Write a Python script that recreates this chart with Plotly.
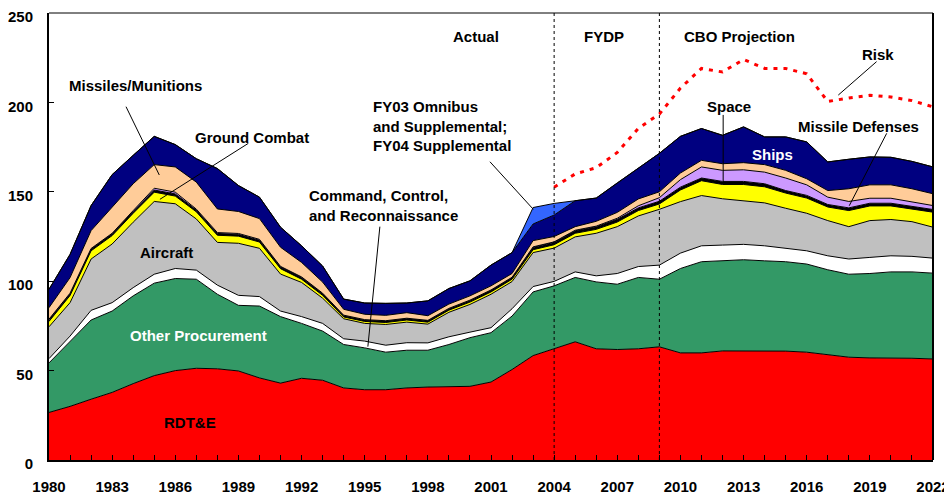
import plotly.graph_objects as go

years = list(range(1980, 2023))

rdte = [26.6, 30.0, 34.0, 37.8, 42.7, 47.2, 50.0, 51.3, 51.0, 49.8,
        45.9, 43.0, 45.7, 44.6, 40.3, 39.3, 39.3, 40.3, 40.8, 41.2,
        41.2, 43.6, 50.6, 58.4, 62.2, 66.1, 62.2, 61.8, 62.2, 63.3,
        59.9, 59.9, 61.0, 61.0, 61.0, 60.9, 60.3, 59.0, 57.5, 57.1,
        57.1, 56.9, 56.5]
other_proc = [27.7, 36.1, 44.3, 45.5, 49.1, 51.7, 51.5, 49.8, 41.7, 36.7,
              40.2, 37.2, 30.7, 27.5, 24.3, 23.4, 21.0, 21.1, 20.6, 23.4,
              27.2, 27.6, 29.9, 35.6, 35.2, 36.0, 37.4, 36.5, 39.9, 37.8,
              47.2, 51.0, 50.4, 51.0, 50.4, 50.0, 49.3, 47.4, 46.4, 47.2,
              48.1, 48.3, 48.0]
c2_recon = [2.4, 3.2, 5.4, 4.7, 4.6, 5.0, 5.6, 5.1, 5.1, 5.6,
            5.3, 3.1, 3.8, 4.3, 3.2, 3.8, 3.9, 4.2, 4.1, 4.3,
            3.1, 2.8, 4.1, 3.0, 2.5, 3.1, 3.4, 6.0, 6.1, 7.9,
            8.6, 8.9, 8.8, 8.6, 8.4, 7.5, 7.4, 7.8, 8.5, 9.0,
            9.0, 8.7, 8.4]
aircraft = [17.8, 18.7, 28.7, 32.8, 36.6, 40.7, 36.2, 28.6, 23.9, 29.1,
            27.0, 20.7, 19.1, 14.1, 11.2, 9.9, 11.6, 11.5, 10.5, 13.7,
            15.5, 18.7, 15.2, 19.0, 18.6, 19.6, 23.8, 26.2, 28.3, 31.2,
            28.8, 28.1, 25.9, 24.5, 24.0, 22.4, 21.0, 19.7, 18.1, 20.6,
            20.3, 19.4, 17.3]
ground_combat = [3.0, 4.0, 4.6, 4.7, 5.0, 5.2, 4.3, 4.0, 4.0, 4.0,
                 3.5, 3.0, 1.8, 1.6, 1.0, 1.1, 1.1, 1.2, 1.1, 1.2,
                 1.3, 1.3, 1.3, 1.6, 1.9, 2.0, 2.2, 2.6, 3.0, 3.0,
                 6.5, 8.3, 8.0, 9.0, 9.0, 8.5, 8.5, 7.6, 9.0, 8.2,
                 7.6, 7.0, 8.4]
space = [1.0, 1.0, 1.0, 1.0, 1.0, 1.2, 1.2, 1.0, 1.0, 1.0,
         1.0, 1.0, 1.0, 1.0, 0.8, 0.8, 0.8, 0.8, 0.8, 0.8,
         0.9, 0.9, 0.9, 1.3, 1.3, 1.4, 1.5, 1.5, 1.5, 1.5,
         1.6, 1.5, 1.7, 1.7, 1.7, 1.4, 1.5, 1.4, 1.5, 1.5,
         1.5, 1.5, 1.5]
missile_def = [0.3, 0.3, 0.3, 0.3, 0.5, 1.0, 1.0, 0.5, 0.5, 0.5,
               0.5, 0.3, 0.3, 0.2, 0.2, 0.2, 0.2, 0.2, 0.2, 0.2,
               0.2, 0.2, 0.2, 0.3, 0.3, 0.3, 0.3, 0.6, 1.2, 2.0,
               4.2, 6.2, 6.2, 6.5, 6.5, 7.0, 5.9, 4.1, 3.6, 2.8,
               2.8, 2.4, 2.2]
missiles_mun = [6.4, 8.7, 10.0, 14.6, 15.0, 13.2, 14.1, 15.1, 13.2, 12.3,
                11.6, 10.7, 8.1, 6.2, 3.3, 3.0, 3.0, 3.1, 2.6, 2.4,
                2.4, 2.3, 2.1, 3.5, 3.0, 2.0, 2.7, 3.3, 3.8, 3.3,
                3.7, 3.7, 3.7, 4.0, 4.2, 4.3, 3.4, 3.7, 7.1, 7.5,
                7.5, 7.5, 6.6]
ships = [10.3, 13.0, 14.0, 18.2, 15.9, 15.8, 12.5, 13.1, 22.6, 14.5,
         12.0, 11.2, 9.3, 9.0, 5.7, 6.3, 6.7, 5.4, 8.3, 8.7,
         8.4, 11.6, 11.7, 9.3, 12.0, 14.5, 13.0, 16.5, 17.0, 21.5,
         20.5, 17.8, 15.9, 20.0, 15.5, 18.7, 20.6, 16.0, 16.5, 15.6,
         15.4, 15.3, 15.0]
supplemental = [0.0] * 23 + [9.2, 6.5] + [0.0] * 18

risk_years = list(range(2004, 2023))
risk = [152.6, 160.0, 163.5, 172.0, 185.5, 193.5, 208.0, 219.0, 217.0, 224.0,
        219.0, 219.0, 216.0, 200.5, 202.5, 204.0, 203.0, 201.0, 197.5]

x_ticks = list(range(1980, 2023, 3))
y_ticks = [0, 50, 100, 150, 200, 250]

series = [
    ("RDT&E", rdte, "#FF0000"),
    ("Other Procurement", other_proc, "#339966"),
    ("Command, Control, and Reconnaissance", c2_recon, "#FFFFFF"),
    ("Aircraft", aircraft, "#C0C0C0"),
    ("Ground Combat", ground_combat, "#FFFF00"),
    ("Space", space, "#000000"),
    ("Missile Defenses", missile_def, "#CC99FF"),
    ("Missiles/Munitions", missiles_mun, "#FFCC99"),
    ("Ships", ships, "#000080"),
    ("FY03 Omnibus and Supplemental; FY04 Supplemental", supplemental, "#3366FF"),
]

FONT = "Liberation Sans, Arial, sans-serif"
LBL = 15

fig = go.Figure()
for name, vals, col in series:
    fig.add_trace(go.Scatter(
        x=years, y=vals, name=name, mode="lines",
        stackgroup="one", fillcolor=col,
        line=dict(color="black", width=1),
        hoverinfo="skip",
    ))

fig.add_trace(go.Scatter(
    x=risk_years, y=risk, name="Risk", mode="lines",
    line=dict(color="#FF0000", width=3, dash="4px,6px"),
    hoverinfo="skip",
))

fig.update_layout(
    width=944, height=489,
    margin=dict(l=41, r=19, t=5, b=37, autoexpand=False),
    paper_bgcolor="white", plot_bgcolor="white",
    showlegend=False,
    font=dict(family=FONT, size=14, color="black"),
    xaxis=dict(
        range=[1980, 2022], tickvals=x_ticks,
        ticktext=[str(v) for v in x_ticks],
        tickfont=dict(family=FONT, size=15, color="black", weight="bold"),
        ticks="inside", ticklen=5, tickcolor="black", tickwidth=1,
        minor=dict(dtick=1, tick0=1980, ticks="inside", ticklen=5,
                   tickcolor="black", tickwidth=1),
        ticklabelstandoff=12, ticklabeloverflow="allow", automargin=False,
        showline=True, linecolor="black", linewidth=2,
        showgrid=False, zeroline=False,
    ),
    yaxis=dict(
        range=[0, 250], tickvals=y_ticks,
        tickfont=dict(family=FONT, size=15, color="black", weight="bold"),
        ticks="inside", ticklen=5, tickcolor="black", tickwidth=1,
        ticklabelstandoff=11, ticklabelshift=4,
        ticklabeloverflow="allow", automargin=False,
        showline=True, linecolor="black", linewidth=2,
        showgrid=False, zeroline=False,
    ),
)

# plot border (top and right)
fig.add_shape(type="line", xref="paper", yref="paper", x0=0, x1=1, y0=1, y1=1,
              line=dict(color="black", width=1))
fig.add_shape(type="line", xref="paper", yref="paper", x0=1, x1=1, y0=0, y1=1,
              line=dict(color="black", width=2))

# period dividers
for xv in (2004, 2009):
    fig.add_shape(type="line", xref="x", yref="paper", x0=xv, x1=xv, y0=0, y1=1,
                  line=dict(color="black", width=1, dash="dot"))

# leader lines
leaders = [
    (1983.66, 197.6, 1985.24, 159.4),   # Missiles/Munitions
    (1989.47, 177.1, 1985.27, 145.8),   # Ground Combat
    (1995.72, 130.5, 1995.15, 63.4),    # Command, Control...
    (2000.95, 166.8, 2003.01, 140.2),   # FY03 Omnibus
    (2012.03, 193.0, 2012.03, 155.6),   # Space
    (2019.80, 182.7, 2018.02, 142.2),   # Missile Defenses
    (2019.32, 222.8, 2017.50, 204.1),   # Risk
]
for x0, y0, x1, y1 in leaders:
    fig.add_shape(type="line", xref="x", yref="y", x0=x0, y0=y0, x1=x1, y1=y1,
                  line=dict(color="black", width=1))

labels = [
    ("Actual", 2000.29, 237.1, "center", "black"),
    ("FYDP", 2006.37, 237.1, "center", "black"),
    ("CBO Projection", 2012.83, 237.1, "center", "black"),
    ("Risk", 2019.4, 227.0, "center", "black"),
    ("Missiles/Munitions", 1984.13, 209.2, "center", "black"),
    ("Ground Combat", 1989.64, 180.1, "center", "black"),
    ("Aircraft", 1985.6, 116.3, "center", "black"),
    ("Other Procurement", 1987.08, 69.9, "center", "white"),
    ("RDT&E", 1986.7, 20.7, "center", "black"),
    ("Command, Control,<br>and Reconnaissance", 1992.26, 142.1, "left", "black"),
    ("FY03 Omnibus<br>and Supplemental;<br>FY04 Supplemental", 1995.3, 186.8, "left", "black"),
    ("Space", 2012.33, 197.6, "center", "black"),
    ("Missile Defenses", 2018.48, 186.8, "center", "black"),
    ("Ships", 2014.37, 170.6, "center", "white"),
]
for txt, xv, yv, anchor, col in labels:
    fig.add_annotation(
        x=xv, y=yv, xref="x", yref="y", text=txt, showarrow=False,
        xanchor=anchor, yanchor="middle", align="left",
        font=dict(family=FONT, size=LBL, color=col, weight="bold"),
    )

fig.write_html("out.html", config={"displayModeBar": False})
